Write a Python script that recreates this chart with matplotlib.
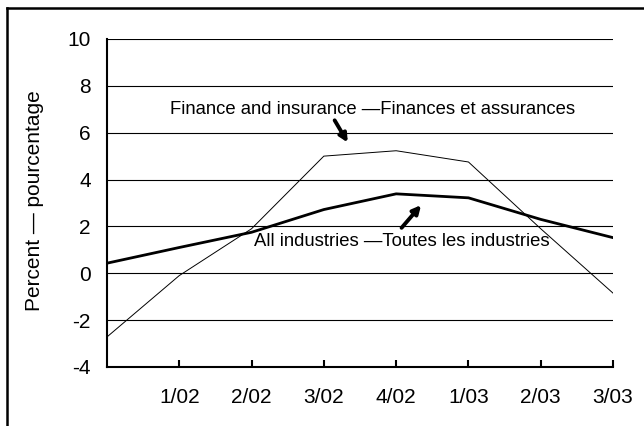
import matplotlib.pyplot as plt
from matplotlib.lines import Line2D

plt.rcParams['font.family'] = ['Liberation Sans', 'DejaVu Sans']

quarters = ['4/01', '1/02', '2/02', '3/02', '4/02', '1/03', '2/03', '3/03']
all_industries = [0.43, 1.1, 1.75, 2.72, 3.39, 3.22, 2.3, 1.52]
finance = [-2.72, -0.1, 1.9, 5.0, 5.23, 4.75, 1.9, -0.85]
y_ticks = [-4, -2, 0, 2, 4, 6, 8, 10]

fig = plt.figure(figsize=(6.44, 4.26), dpi=100)
ax = fig.add_axes([0.166, 0.1385, 0.786, 0.77])

x = list(range(len(quarters)))
for yv in y_ticks[1:]:
    ax.axhline(yv, color='black', lw=0.8, zorder=1)
ax.plot(x, finance, color='black', lw=0.7, zorder=3)
ax.plot(x, all_industries, color='black', lw=2, zorder=3)

ax.set_xlim(0, len(quarters) - 1)
ax.set_ylim(-4, 10)
ax.set_yticks(y_ticks)
ax.set_yticklabels([str(v) for v in y_ticks], fontsize=15)
ax.set_xticks(x[1:])
ax.set_xticklabels(quarters[1:], fontsize=15)
ax.tick_params(axis='y', length=0, pad=11.5)
ax.tick_params(axis='x', direction='in', length=5, width=1.5, pad=15)
for s in ['top', 'right']:
    ax.spines[s].set_visible(False)
ax.spines['left'].set_linewidth(1.5)
ax.spines['bottom'].set_linewidth(1.5)
fig.text(35 / 644, 1 - 201 / 426, 'Percent — pourcentage', rotation=90,
         ha='center', va='center', fontsize=15)

ax.text(0.87, 7.01, 'Finance and insurance —Finances et assurances',
        ha='left', va='center', fontsize=13.3)
ax.annotate('', xy=(3.35, 5.48), xytext=(3.13, 6.63),
            arrowprops=dict(arrowstyle='-|>', color='black', lw=2.8, mutation_scale=12))
ax.text(2.03, 1.34, 'All industries —Toutes les industries',
        ha='left', va='center', fontsize=13.3)
ax.annotate('', xy=(4.37, 3.0), xytext=(4.05, 1.85),
            arrowprops=dict(arrowstyle='-|>', color='black', lw=2.8, mutation_scale=12))

# outer frame (only left and top edges show in the reference)
fig.add_artist(Line2D([7 / 644, 7 / 644], [0, 1 - 8 / 426], transform=fig.transFigure,
                      color='black', lw=1.8))
fig.add_artist(Line2D([7 / 644, 1], [1 - 8 / 426, 1 - 8 / 426], transform=fig.transFigure,
                      color='black', lw=1.8))
fig.savefig('out.png', dpi=100)
